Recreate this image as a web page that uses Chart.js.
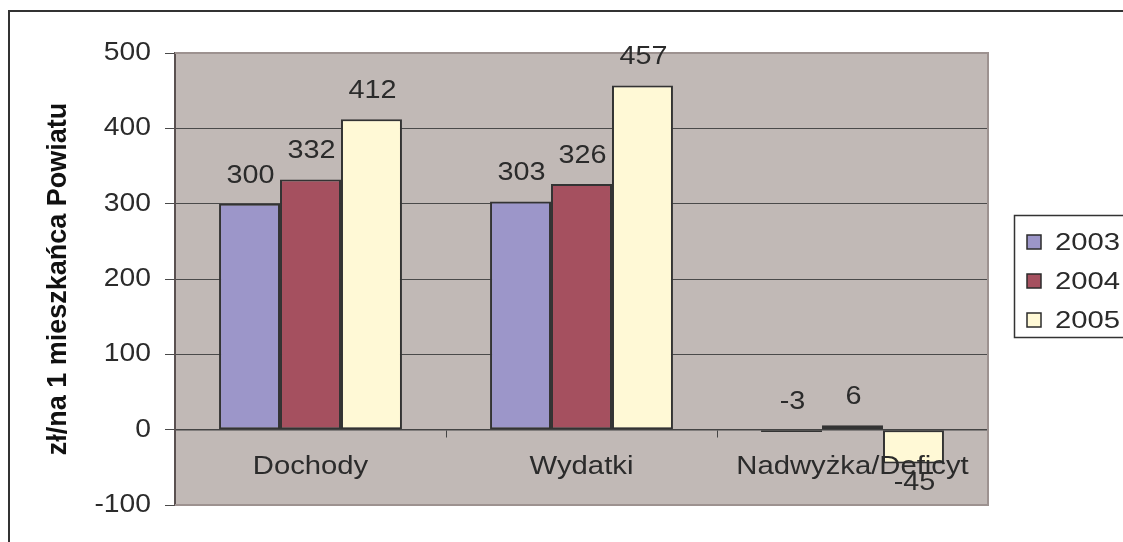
<!DOCTYPE html>
<html>
<head>
<meta charset="utf-8">
<script src="https://cdn.jsdelivr.net/npm/chart.js@4/dist/chart.umd.min.js"></script>
<style>
  html, body { margin: 0; padding: 0; background: #fff; overflow: hidden; }
</style>
</head>
<body>
<canvas id="bar_chart" width="1123" height="542"></canvas>
<script>
var categories = ["Dochody", "Wydatki", "Nadwyżka/Deficyt"];
var years = ["2003", "2004", "2005"];
var values2003 = [300, 303, -3];
var values2004 = [332, 326, 6];
var values2005 = [412, 457, -45];
var yMin = -100, yMax = 500, yStep = 100;
var axisTitle = "zł/na 1 mieszkańca Powiatu";

var colors = ["#9c96c9", "#a5505f", "#fff9d6"];
var textFont = "'Liberation Sans', Arial, sans-serif";
var textColor = "#2b2b2b";

// the original labels look like Arial pulled a bit wider, so draw them stretched
function wideText(ctx, text, x, y, align, size, sx) {
    ctx.save();
    ctx.font = size + "px " + textFont;
    ctx.fillStyle = textColor;
    ctx.textAlign = align;
    ctx.textBaseline = "middle";
    ctx.translate(x, y);
    ctx.scale(sx, 1);
    ctx.fillText(text, 0, 0);
    ctx.restore();
}

var framePlugin = {
    id: "frame",
    beforeDraw: function (chart) {
        var ctx = chart.ctx, a = chart.chartArea;
        ctx.save();
        ctx.fillStyle = "#c1b9b6";
        ctx.fillRect(a.left, a.top, a.right - a.left, a.bottom - a.top);
        ctx.strokeStyle = "#333";
        ctx.lineWidth = 2;
        ctx.strokeRect(9, 11, 1300, 700);
        ctx.restore();
    },
    beforeDatasetsDraw: function (chart) {
        var ctx = chart.ctx, a = chart.chartArea;
        ctx.save();
        ctx.strokeStyle = "#9d9290";
        ctx.lineWidth = 2;
        ctx.beginPath();
        ctx.moveTo(a.left, a.top);
        ctx.lineTo(a.right, a.top);
        ctx.lineTo(a.right, a.bottom);
        ctx.lineTo(a.left, a.bottom);
        ctx.stroke();
        ctx.restore();
    },
    afterDatasetsDraw: function (chart) {
        var ctx = chart.ctx;
        var xs = chart.scales.x, ys = chart.scales.y;
        var zero = ys.getPixelForValue(0);

        // y tick labels
        ys.ticks.forEach(function (t) {
            wideText(ctx, String(t.value), 151, ys.getPixelForValue(t.value), "right", 25, 1.13);
        });
        // category labels just under the zero line
        xs.ticks.forEach(function (t, i) {
            wideText(ctx, categories[t.value], xs.getPixelForValue(t.value), zero + 37, "center", 25, 1.17);
        });
        // value labels
        chart.data.datasets.forEach(function (ds, i) {
            chart.getDatasetMeta(i).data.forEach(function (bar, j) {
                var v = ds.data[j];
                var y;
                if (v < 0 && bar.y - zero > 10) {
                    y = bar.y + 20;
                } else {
                    y = Math.min(bar.y, zero) - 28;
                }
                wideText(ctx, String(v), bar.x + 1, y, "center", 25, 1.15);
            });
        });
    },
    afterDraw: function (chart) {
        var ctx = chart.ctx;
        ctx.save();
        ctx.strokeStyle = "#333";
        ctx.lineWidth = 1.5;
        ctx.strokeRect(1014.5, 215.5, 200, 122);
        chart.data.datasets.forEach(function (ds, i) {
            var cy = 242 + i * 39;
            ctx.fillStyle = ds.backgroundColor;
            ctx.fillRect(1027, cy - 7, 14, 14);
            ctx.strokeStyle = textColor;
            ctx.lineWidth = 1.5;
            ctx.strokeRect(1027, cy - 7, 14, 14);
            wideText(ctx, ds.label, 1055, cy + 1, "left", 24, 1.22);
        });
        ctx.restore();
    }
};

function makeSet(label, values, color) {
    return {
        label: label,
        data: values,
        backgroundColor: color,
        borderColor: "#333",
        borderWidth: 2,
        borderSkipped: false,
        categoryPercentage: 0.675,
        barPercentage: 1
    };
}

new Chart(document.getElementById("bar_chart").getContext("2d"), {
    type: "bar",
    data: {
        labels: categories,
        datasets: [
            makeSet(years[0], values2003, colors[0]),
            makeSet(years[1], values2004, colors[1]),
            makeSet(years[2], values2005, colors[2])
        ]
    },
    options: {
        responsive: false,
        animation: false,
        layout: { padding: { left: 0, top: 53, right: 135, bottom: 37 } },
        plugins: { legend: { display: false }, tooltip: { enabled: false } },
        scales: {
            x: {
                position: { y: 0 },
                grid: { drawOnChartArea: false, drawTicks: true, tickLength: 7, color: "#444", offset: true },
                border: { color: "#444", width: 1.5 },
                ticks: { display: false }
            },
            y: {
                min: yMin,
                max: yMax,
                afterFit: function (scale) { scale.width = 175; },
                ticks: { display: false, stepSize: yStep },
                grid: { color: "#4a4a4a", lineWidth: 1, tickLength: 10 },
                border: { color: "#5a5151", width: 2 },
                title: {
                    display: true,
                    text: axisTitle,
                    color: "#111",
                    padding: { top: 42, bottom: 0 },
                    font: { family: textFont, size: 27, weight: "bold" }
                }
            }
        }
    },
    plugins: [framePlugin]
});
</script>
</body>
</html>
